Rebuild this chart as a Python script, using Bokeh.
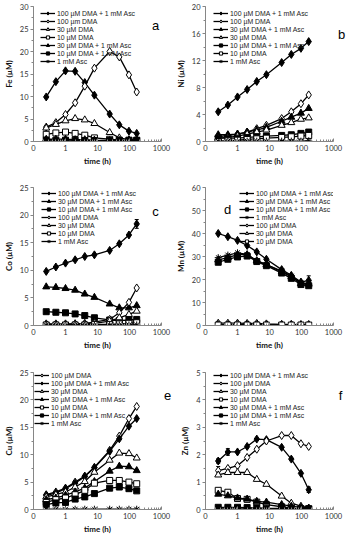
from bokeh.plotting import figure
from bokeh.layouts import column, row
from bokeh.models import (Legend, LegendItem, ColumnDataSource, FixedTicker,
                          SingleIntervalTicker, CustomJSTickFormatter, Label,
                          Whisker, Range1d)
from bokeh.embed import file_html
from bokeh.resources import INLINE

# ---------------- data ----------------
time_h = [0.25, 0.5, 1, 2, 4, 8, 24, 48, 96, 168]

L100A = "100 µM DMA + 1 mM Asc"
L100D = "100 µM DMA"
L100d = "100 µm DMA"
L30A = "30 µM DMA + 1 mM Asc"
L30D = "30 µM DMA"
L10A = "10 µM DMA + 1 mM Asc"
L10D = "10 µM DMA"
LASC = "1 mM Asc"

x_ticks = [0.1, 1, 10, 100, 1000]
x_minor = [0.2, 0.3, 0.4, 0.5, 0.6, 0.7, 0.8, 0.9, 2, 3, 4, 5, 6, 7, 8, 9,
           20, 30, 40, 50, 60, 70, 80, 90, 200, 300, 400, 500, 600, 700, 800, 900]

# Fe
fe_100A = [9.9, 13.3, 15.7, 15.6, 13.1, 10.3, 6.1, 3.7, 2.3, 1.8]
fe_100D = [3.2, 4.2, 6.0, 8.6, 12.3, 16.3, 20.0, 18.8, 14.8, 11.0]
fe_30D = [3.0, 3.8, 4.6, 5.1, 4.8, 4.0, 2.0, 0.8, 0.4, 0.4]
fe_10D = [1.6, 1.9, 2.1, 1.8, 1.4, 0.8, 0.5, 0.3, 0.3, 0.3]
fe_30A = [0.5, 0.5, 0.5, 0.4, 0.4, 0.3, 0.2, 0.2, 0.2, 0.2]
fe_10A = [0.3, 0.3, 0.3, 0.3, 0.2, 0.2, 0.2, 0.2, 0.2, 0.2]
fe_asc = [0.1, 0.1, 0.1, 0.1, 0.1, 0.1, 0.1, 0.1, 0.1, 0.1]

# Ni
ni_100A = [4.4, 5.4, 6.6, 7.7, 8.9, 9.9, 11.7, 12.9, 13.8, 14.8]
ni_100D = [0.7, 0.9, 1.1, 1.4, 1.9, 2.4, 3.4, 4.4, 5.6, 6.9]
ni_30A = [1.0, 1.0, 1.1, 1.4, 1.7, 2.1, 3.0, 3.6, 4.2, 4.9]
ni_30D = [0.5, 0.6, 0.8, 1.1, 1.4, 1.7, 2.4, 2.8, 3.3, 3.5]
ni_10A = [0.5, 0.5, 0.5, 0.6, 0.7, 0.8, 0.9, 1.0, 1.2, 1.4]
ni_10D = [0.0, 0.1, 0.2, 0.3, 0.4, 0.5, 0.6, 0.7, 0.8, 0.9]
ni_asc = [0.05, 0.05, 0.05, 0.05, 0.05, 0.05, 0.05, 0.05, 0.05, 0.1]

# Co
co_100A = [9.8, 10.6, 11.3, 11.9, 12.5, 12.8, 13.6, 14.8, 16.4, 18.4]
co_30A = [7.0, 6.9, 6.7, 6.4, 5.7, 5.1, 3.9, 3.2, 3.2, 3.6]
co_10A = [2.5, 2.4, 2.3, 2.1, 1.8, 1.4, 1.0, 0.9, 1.0, 1.1]
co_100D = [0.3, 0.3, 0.3, 0.3, 0.4, 0.6, 1.1, 2.3, 4.2, 6.8]
co_30D = [0.2, 0.2, 0.2, 0.3, 0.3, 0.4, 0.8, 1.4, 2.0, 2.6]
co_10D = [0.1, 0.1, 0.1, 0.1, 0.1, 0.2, 0.2, 0.3, 0.4, 0.5]
co_asc = [0.1, 0.1, 0.1, 0.1, 0.1, 0.1, 0.1, 0.1, 0.1, 0.1]
co_100A_err = [0, 0, 0, 0, 0, 0, 0, 0, 0, 0.8]

# Mn
mn_100A = [40.0, 38.6, 37.0, 34.8, 32.0, 28.8, 24.3, 21.8, 18.9, 19.6]
mn_30A = [28.5, 29.5, 30.8, 30.8, 28.2, 26.5, 23.3, 21.2, 18.3, 18.0]
mn_10A = [27.5, 28.8, 29.8, 30.2, 27.8, 26.0, 22.8, 20.5, 17.8, 17.3]
mn_asc = [29.5, 30.6, 31.6, 30.9, 28.1, 26.5, 23.7, 21.4, 18.5, 17.9]
mn_100D = [1.0, 1.0, 1.0, 0.9, 0.9, 0.7, 0.5, 0.5, 0.4, 0.4]
mn_30D = [0.4, 0.4, 0.4, 0.4, 0.4, 0.3, 0.3, 0.3, 0.3, 0.3]
mn_10D = [0.2, 0.2, 0.2, 0.2, 0.2, 0.2, 0.2, 0.2, 0.2, 0.2]
mn_100A_err = [0, 0, 0, 0, 0, 0, 0, 0, 0, 2.0]

# Cu
cu_100D = [2.7, 3.2, 3.9, 5.0, 6.1, 7.7, 10.8, 13.4, 16.6, 18.8]
cu_100A = [2.6, 3.0, 3.8, 4.8, 6.0, 7.6, 10.6, 12.9, 15.2, 16.6]
cu_30D = [2.3, 2.7, 3.2, 4.1, 5.1, 6.8, 9.0, 10.3, 10.2, 9.4]
cu_30A = [1.8, 2.1, 2.6, 3.2, 3.9, 5.1, 7.0, 7.9, 7.8, 7.1]
cu_10D = [1.3, 1.8, 2.1, 2.7, 3.5, 4.8, 5.3, 5.3, 5.0, 4.7]
cu_10A = [0.9, 1.2, 1.3, 1.9, 2.3, 2.9, 3.9, 4.1, 3.8, 3.4]
cu_asc = [0.05, 0.05, 0.05, 0.05, 0.05, 0.05, 0.05, 0.05, 0.05, 0.05]

# Zn
zn_100A = [1.77, 2.1, 2.1, 2.3, 2.57, 2.55, 2.27, 1.84, 1.32, 0.72]
zn_100D = [1.42, 1.5, 1.6, 1.9, 2.2, 2.5, 2.7, 2.7, 2.4, 2.3]
zn_30D = [1.26, 1.35, 1.35, 1.35, 1.1, 0.92, 0.49, 0.23, 0.12, 0.05]
zn_10D = [0.7, 0.63, 0.4, 0.37, 0.27, 0.18, 0.1, 0.05, 0.03, 0.03]
zn_30A = [0.56, 0.5, 0.42, 0.38, 0.3, 0.27, 0.18, 0.12, 0.08, 0.05]
zn_10A = [0.08, 0.08, 0.08, 0.07, 0.06, 0.05, 0.04, 0.03, 0.02, 0.02]
zn_asc = [0.02, 0.02, 0.02, 0.02, 0.02, 0.02, 0.02, 0.02, 0.02, 0.02]
zn_100A_err = [0.08, 0.12, 0, 0, 0, 0, 0, 0, 0, 0.1]
zn_100D_err = [0.15, 0, 0, 0, 0, 0, 0, 0, 0, 0]

# ---------------- styling ----------------
STYLE = {
    "100A": dict(marker="diamond", fill="black", size=8),
    "100D": dict(marker="diamond", fill="white", size=8),
    "30A": dict(marker="triangle", fill="black", size=7),
    "30D": dict(marker="triangle", fill="white", size=7),
    "10A": dict(marker="square", fill="black", size=6),
    "10D": dict(marker="square", fill="white", size=6),
    "ASC": dict(marker="asterisk", fill="black", size=7),
}

FONT = "Lato"
AXIS_COLOR = "#868686"


def make_panel(ylabel, ymax, yint, series, letter, letter_pos, letter_side,
               legend_xy, left, top_b, frame_h, bottom_b, errors=None):
    p = figure(x_axis_type="log", x_range=Range1d(0.1, 1000),
               y_range=Range1d(0, ymax),
               frame_width=128, frame_height=frame_h,
               min_border_left=27 if left else 33,
               min_border_right=11 if left else 14,
               min_border_top=top_b, min_border_bottom=bottom_b,
               output_backend="svg", toolbar_location=None, tools="")
    p.outline_line_color = None
    p.xgrid.visible = False
    p.ygrid.visible = False
    p.background_fill_color = "white"
    p.border_fill_color = "white"

    xa = p.xaxis[0]
    xa.ticker = FixedTicker(ticks=x_ticks, minor_ticks=x_minor)
    xa.formatter = CustomJSTickFormatter(
        code="return tick < 1 ? '0' : String(Math.round(tick));")
    xa.axis_label = "time (h)"
    xa.major_tick_in = 3
    xa.major_tick_out = 0
    xa.minor_tick_in = 2
    xa.minor_tick_out = 0
    xa.major_label_standoff = 3
    xa.axis_label_standoff = 2

    ya = p.yaxis[0]
    ya.ticker = SingleIntervalTicker(interval=yint, num_minor_ticks=2)
    ya.axis_label = ylabel
    ya.major_tick_in = 0
    ya.major_tick_out = 3
    ya.minor_tick_in = 0
    ya.minor_tick_out = 2
    ya.major_label_standoff = 2
    ya.axis_label_standoff = 3

    for ax in (xa, ya):
        ax.axis_line_color = AXIS_COLOR
        ax.major_tick_line_color = AXIS_COLOR
        ax.minor_tick_line_color = AXIS_COLOR
        ax.major_label_text_font = FONT
        ax.major_label_text_font_size = "7.5px"
        ax.major_label_text_color = "#333333"
        ax.axis_label_text_font = FONT
        ax.axis_label_text_font_size = "8px"
        ax.axis_label_text_font_style = "bold"
        ax.axis_label_text_color = "#111111"

    items = []
    for lbl, vals, key in series:
        st = STYLE[key]
        src = ColumnDataSource(dict(x=time_h, y=vals))
        lr = p.line("x", "y", source=src, line_color="black", line_width=1.3)
        sr = p.scatter("x", "y", source=src, marker=st["marker"], size=st["size"],
                       fill_color=st["fill"], line_color="black", line_width=1)
        items.append(LegendItem(label=lbl, renderers=[lr, sr]))

    if errors:
        for vals, err in errors:
            xs, lo, hi = [], [], []
            for t, v, e in zip(time_h, vals, err):
                if e > 0:
                    xs.append(t)
                    lo.append(v - e)
                    hi.append(v + e)
            wsrc = ColumnDataSource(dict(x=xs, lower=lo, upper=hi))
            w = Whisker(source=wsrc, base="x", lower="lower", upper="upper",
                        line_color="black", line_width=1)
            w.upper_head.size = 4
            w.lower_head.size = 4
            w.upper_head.line_color = "black"
            w.lower_head.line_color = "black"
            p.add_layout(w)

    leg = Legend(items=items, location=legend_xy,
                 label_text_font="Liberation Sans", label_text_font_size="6.9px",
                 label_text_line_height=1.0,
                 label_text_color="#222222",
                 label_height=8, glyph_height=8, glyph_width=15,
                 label_standoff=2, spacing=0, padding=0, margin=0,
                 border_line_color=None, background_fill_alpha=0)
    p.add_layout(leg)

    # letter position given in screen px from the panel's left / bottom
    p.add_layout(Label(x=letter_pos[0], y=letter_pos[1], x_units="screen",
                       y_units="screen", text=letter,
                       text_font="Liberation Sans", text_font_size="13px",
                       text_align="center", text_baseline="middle",
                       text_color="black"), letter_side)
    return p


pa = make_panel("Fe (µM)", 30, 5,
                [(L100A, fe_100A, "100A"), (L100d, fe_100D, "100D"),
                 (L30D, fe_30D, "30D"), (L10D, fe_10D, "10D"),
                 (L30A, fe_30A, "30A"), (L10A, fe_10A, "10A"),
                 (LASC, fe_asc, "ASC")],
                "a", (122, 116), "center", (7, 76), True, 6, 135, 39)

pb = make_panel("Ni (µM)", 20, 4,
                [(L100A, ni_100A, "100A"), (L100D, ni_100D, "100D"),
                 (L30A, ni_30A, "30A"), (L30D, ni_30D, "30D"),
                 (L10A, ni_10A, "10A"), (L10D, ni_10D, "10D"),
                 (LASC, ni_asc, "ASC")],
                "b", (8, 107), "right", (8, 76), False, 6, 135, 39)

pc = make_panel("Co (µM)", 25, 5,
                [(L100A, co_100A, "100A"), (L30A, co_30A, "30A"),
                 (L10A, co_10A, "10A"), (L100D, co_100D, "100D"),
                 (L30D, co_30D, "30D"), (L10D, co_10D, "10D"),
                 (LASC, co_asc, "ASC")],
                "c", (122, 114), "center", (8, 80), True, 7, 138, 37,
                errors=[(co_100A, co_100A_err)])

pd_ = make_panel("Mn (µM)", 60, 10,
                 [(L100A, mn_100A, "100A"), (L30A, mn_30A, "30A"),
                  (L10A, mn_10A, "10A"), (LASC, mn_asc, "ASC"),
                  (L100D, mn_100D, "100D"), (L30D, mn_30D, "30D"),
                  (L10D, mn_10D, "10D")],
                 "d", (22, 116), "center", (34, 80), False, 7, 138, 37,
                 errors=[(mn_100A, mn_100A_err)])

pe = make_panel("Cu (µM)", 25, 5,
                [(L100D, cu_100D, "100D"), (L100A, cu_100A, "100A"),
                 (L30D, cu_30D, "30D"), (L30A, cu_30A, "30A"),
                 (L10D, cu_10D, "10D"), (L10A, cu_10A, "10A"),
                 (LASC, cu_asc, "ASC")],
                "e", (6, 114), "right", (1, 82), True, 10, 137, 25)

pf = make_panel("Zn (µM)", 5, 1,
                [(L100A, zn_100A, "100A"), (L100D, zn_100D, "100D"),
                 (L30D, zn_30D, "30D"), (L10D, zn_10D, "10D"),
                 (L30A, zn_30A, "30A"), (L10A, zn_10A, "10A"),
                 (LASC, zn_asc, "ASC")],
                "f", (7, 114), "right", (8, 82), False, 10, 137, 25,
                errors=[(zn_100A, zn_100A_err), (zn_100D, zn_100D_err)])

layout = column(row(pa, pb), row(pc, pd_), row(pe, pf))

open("out.html", "w").write(file_html(layout, INLINE))
